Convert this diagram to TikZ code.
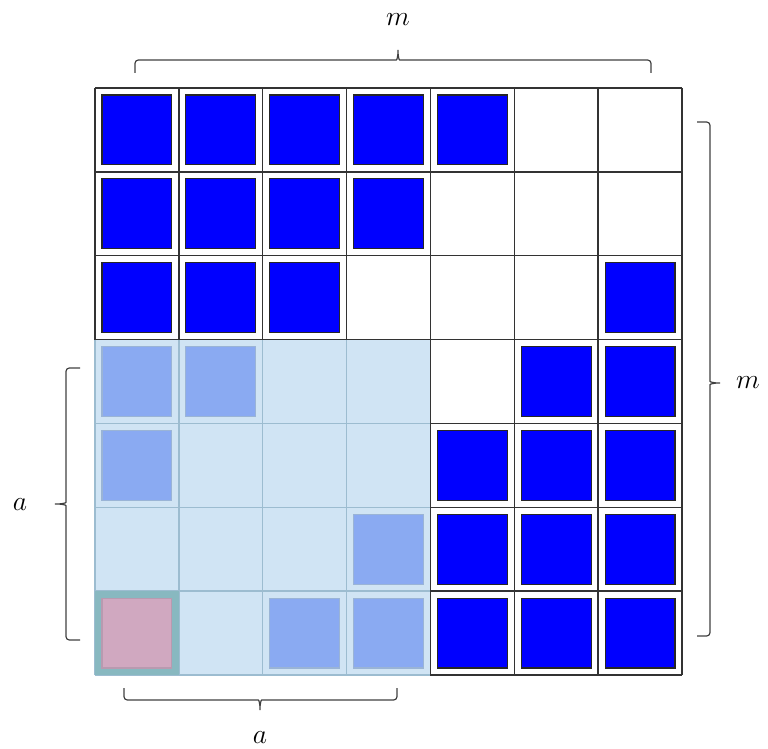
\documentclass[tikz,border=0pt]{standalone}
\definecolor{sqblue}{HTML}{0000FF}
\definecolor{regfill}{HTML}{D0E4F4}
\definecolor{regline}{HTML}{9CBCD0}
\definecolor{lsq}{HTML}{8AAAF2}
\definecolor{lsqline}{HTML}{9AB4D6}
\definecolor{tealc}{HTML}{88B8C0}
\definecolor{pinksq}{HTML}{D0A8C0}
\definecolor{pinkline}{HTML}{B89AB0}
\tikzset{
  gridline/.style={draw=black!80, line width=1.1pt},
  lgridline/.style={draw=regline, line width=1.1pt},
  bluesq/.style={fill=sqblue, draw=black!85, line width=0.8pt},
  lightsq/.style={fill=lsq, draw=lsqline, line width=0.8pt},
  pinkbox/.style={fill=pinksq, draw=pinkline, line width=0.8pt},
  bracestyle/.style={draw=black!75, line width=0.9pt, rounded corners=2.5pt},
  lab/.style={font=\fontsize{22}{26}\selectfont, inner sep=0pt}
}
\begin{document}
\begin{tikzpicture}[x=0.75pt, y=-0.75pt]
\useasboundingbox (0,0) rectangle (768,749);
\def\s{83.857}
% blue squares
\foreach \c/\r in {0/0,1/0,2/0,3/0,4/0, 0/1,1/1,2/1,3/1, 0/2,1/2,2/2,6/2, 5/3,6/3, 4/4,5/4,6/4, 4/5,5/5,6/5, 4/6,5/6,6/6}
  \path[bluesq] ({95+\c*\s+7},{88+\r*\s+7}) rectangle ({95+(\c+1)*\s-7},{88+(\r+1)*\s-7});
% black grid
\foreach \i in {0,...,7} {
  \path[gridline] ({95+\i*\s},88) -- ({95+\i*\s},{88+7*\s});
  \path[gridline] (95,{88+\i*\s}) -- ({95+7*\s},{88+\i*\s});
}
% shaded region
\path[fill=regfill] (95,{88+3*\s}) rectangle ({95+4*\s},{88+7*\s});
\foreach \i in {0,...,4} {
  \path[lgridline] ({95+\i*\s},{88+3*\s}) -- ({95+\i*\s},{88+7*\s});
}
\foreach \i in {4,...,7} {
  \path[lgridline] (95,{88+\i*\s}) -- ({95+4*\s},{88+\i*\s});
}
% teal cell
\path[fill=tealc] (95,{88+6*\s}) rectangle ({95+\s},{88+7*\s});
% light squares
\foreach \c/\r in {0/3,1/3,0/4,3/5,2/6,3/6}
  \path[lightsq] ({95+\c*\s+7},{88+\r*\s+7}) rectangle ({95+(\c+1)*\s-7},{88+(\r+1)*\s-7});
\path[pinkbox] ({95+7},{88+6*\s+7}) rectangle ({95+\s-7},{88+7*\s-7});
% black edges of region top and right
\path[gridline] (95,{88+3*\s}) -- ({95+4*\s},{88+3*\s});
\path[gridline] ({95+4*\s},{88+3*\s}) -- ({95+4*\s},{88+7*\s});
% braces
\path[bracestyle] (135,73) -- (135,60) -- (393,60)
  .. controls (397,60) and (398,56) .. (398,48)
  .. controls (398,56) and (399,60) .. (403,60) -- (651,60) -- (651,73);
\path[bracestyle] (697,122) -- (710,122) -- (710,378)
  .. controls (710,382) and (714,383) .. (722,383)
  .. controls (714,383) and (710,384) .. (710,388) -- (710,636) -- (697,636);
\path[bracestyle] (80,368) -- (66,368) -- (66,499)
  .. controls (66,503) and (62,504) .. (53,504)
  .. controls (62,504) and (66,505) .. (66,509) -- (66,640) -- (80,640);
\path[bracestyle] (124,688) -- (124,700) -- (255,700)
  .. controls (259,700) and (260,704) .. (260,712)
  .. controls (260,704) and (261,700) .. (265,700) -- (397,700) -- (397,688);
% labels
\node[lab] (lm1) at (398,20) {$m$};
\node[lab] (lm2) at (748,383) {$m$};
\node[lab] (la1) at (20,505) {$a$};
\node[lab] (la2) at (260,738) {$a$};
\end{tikzpicture}
\end{document}
